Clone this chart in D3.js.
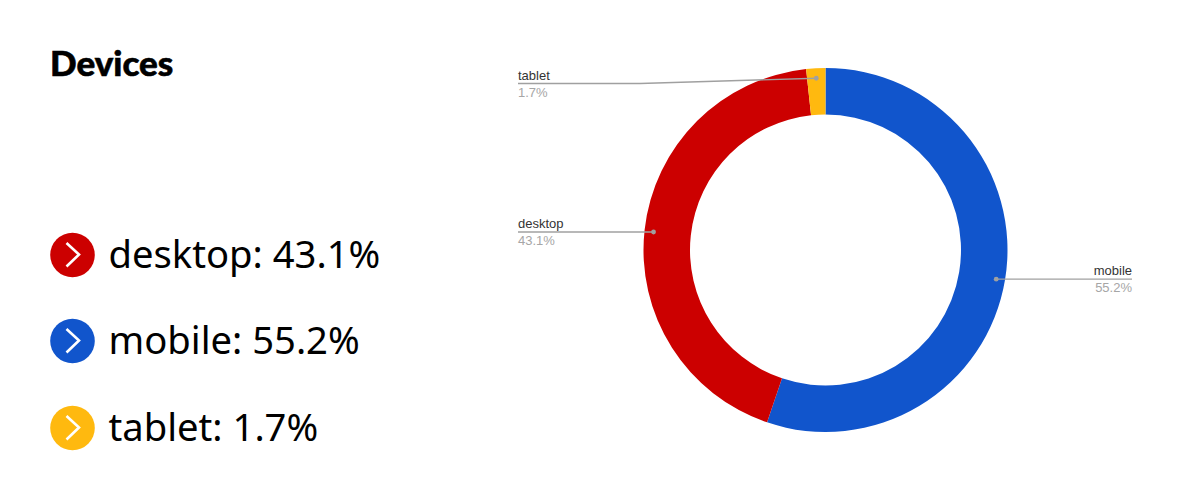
<!DOCTYPE html>
<html><head><meta charset="utf-8">
<script src="https://cdnjs.cloudflare.com/ajax/libs/d3/7.8.5/d3.min.js"></script>
<style>html,body{margin:0;padding:0;background:#fff}svg{display:block}</style>
</head><body><svg id="c" width="1200" height="500"></svg>
<script>
const title = "Devices";
const sliceNames = ["mobile", "desktop", "tablet"];
const sliceValues = [55.2, 43.1, 1.7];
const sliceColors = ["#1155cc", "#cc0000", "#ffb90f"];
const legendOrder = ["desktop", "mobile", "tablet"];
const legendBandRows = [255, 341, 428];
const calloutSide = {mobile: "right", desktop: "left", tablet: "left"};

const svg = d3.select("#c");
const color = d3.scaleOrdinal(sliceNames, sliceColors);
const valueOf = new Map(sliceNames.map((n, i) => [n, sliceValues[i]]));
const fmt = v => v.toFixed(1) + "%";

svg.append("text").attr("x", 50).attr("y", 76)
  .attr("font-family", "Lato").attr("font-weight", 900).attr("font-size", 35)
  .attr("fill", "#000").attr("stroke", "#000").attr("stroke-width", 0.6).text(title);

const rowY = d3.scaleOrdinal(legendOrder, legendBandRows);
const row = svg.append("g").selectAll("g").data(legendOrder).join("g")
  .attr("transform", d => `translate(72.5,${rowY(d)})`);
row.append("circle").attr("r", 22.3).attr("fill", d => color(d));
row.append("path").attr("d", "M-6,-12L6.5,-0.5L-6,11.5").attr("fill", "none")
  .attr("stroke", "#fff").attr("stroke-width", 2.6);
row.append("text").attr("x", 36).attr("y", 13)
  .attr("font-family", "'Noto Sans'").attr("font-size", 38.2).attr("fill", "#000")
  .text(d => `${d}: ${fmt(valueOf.get(d))}`);

const cx = 825.5, cy = 250, R = 182, r = 135.5;
const pie = d3.pie().sort(null).value(d => d.value);
const arcs = pie(sliceNames.map((n, i) => ({name: n, value: sliceValues[i]})));
const arc = d3.arc().innerRadius(r).outerRadius(R);
const dotArc = d3.arc().innerRadius(173).outerRadius(173);
const g = svg.append("g").attr("transform", `translate(${cx},${cy})`);
g.selectAll("path").data(arcs).join("path").attr("d", arc).attr("fill", d => color(d.data.name));

const leftX = 518 - cx, rightX = 1132 - cx, tabletY = 83.5 - cy, tabletBend = 640 - cx;
const labels = g.selectAll("g.l").data(arcs).join("g").attr("class", "l");
labels.each(function(d) {
  const [px, py0] = dotArc.centroid(d);
  const py = py0 + 1;
  const s = d3.select(this);
  const right = calloutSide[d.data.name] === "right";
  const endX = right ? rightX : leftX;
  const lineY = d.data.name === "tablet" ? tabletY : py;
  const pts = d.data.name === "tablet"
    ? [[px, py], [tabletBend, lineY], [endX, lineY]]
    : [[px, py], [endX, lineY]];
  s.append("path").attr("d", d3.line()(pts)).attr("fill", "none").attr("stroke", "#a0a0a0").attr("stroke-width", 1.4);
  s.append("circle").attr("cx", px).attr("cy", py).attr("r", 2.4).attr("fill", "#a0a0a0");
  const anchor = right ? "end" : "start";
  s.append("text").attr("x", endX).attr("y", lineY - 3.7).attr("text-anchor", anchor)
    .attr("font-family", "'Liberation Sans'").attr("font-size", 13).attr("fill", "#333").text(d.data.name);
  s.append("text").attr("x", endX).attr("y", lineY + 13).attr("text-anchor", anchor)
    .attr("font-family", "'Liberation Sans'").attr("font-size", 13).attr("fill", "#a6a6a6").text(fmt(d.data.value));
});
</script></body></html>
